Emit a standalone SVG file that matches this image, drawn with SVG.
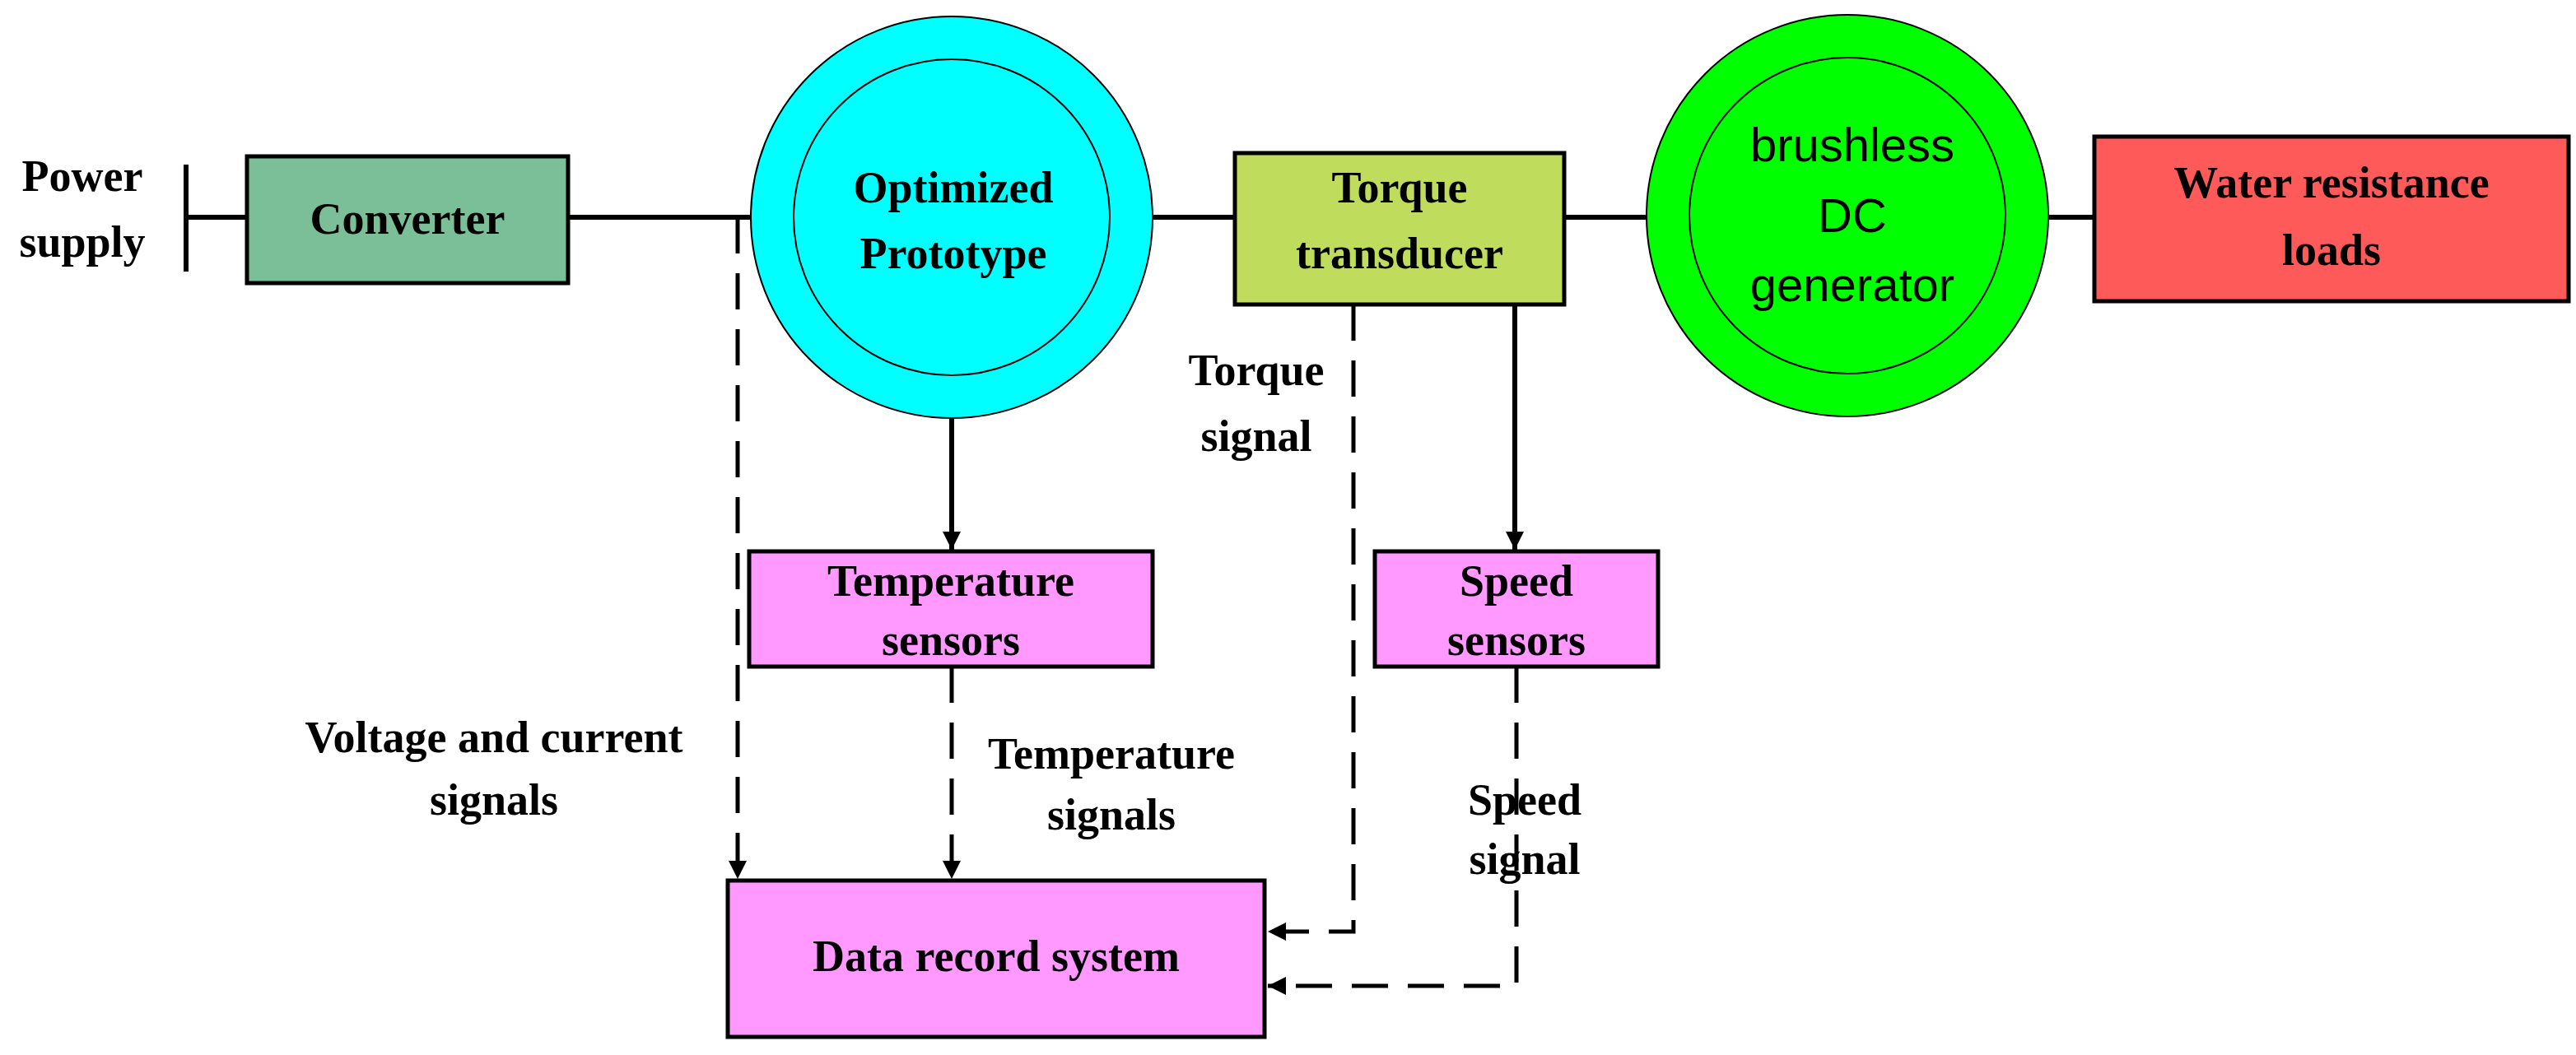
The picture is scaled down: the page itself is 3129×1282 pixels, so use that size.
<svg xmlns="http://www.w3.org/2000/svg" width="3129" height="1282" viewBox="0 0 3129 1282">
<style>
.t{font-family:"Liberation Serif",serif;font-weight:bold;font-size:54px;fill:#000;text-anchor:middle}
.s{font-family:"Liberation Sans",sans-serif;font-size:58px;fill:#000;text-anchor:middle}
.box{stroke:#000;stroke-width:5}
.ln{stroke:#000;stroke-width:6;fill:none}
.d{stroke:#000;stroke-width:5;fill:none;stroke-dasharray:44 24}
</style>
<defs>
<marker id="ah" markerWidth="8" markerHeight="8" refX="7" refY="4" orient="auto" markerUnits="userSpaceOnUse" viewBox="0 0 8 8"><path d="M0,0 L8,4 L0,8 z" fill="#000"/></marker>
<marker id="a" viewBox="0 0 10 10" refX="10" refY="5" markerWidth="22" markerHeight="40" markerUnits="userSpaceOnUse" orient="auto"><path d="M0,0 L10,5 L0,10 z" fill="#000"/></marker>
</defs>
<rect width="3129" height="1282" fill="#fff"/>
<g id="connectors">
<line class="ln" x1="226" y1="200" x2="226" y2="330"/>
<line class="ln" x1="226" y1="264" x2="300" y2="264"/>
<line class="ln" x1="690" y1="264" x2="912" y2="264"/>
<line class="ln" x1="1400" y1="264" x2="1500" y2="264"/>
<line class="ln" x1="1900" y1="264" x2="2000" y2="264"/>
<line class="ln" x1="2488" y1="264" x2="2544" y2="264"/>
<line class="ln" x1="1156" y1="508" x2="1156" y2="668" marker-end="url(#a)"/>
<line class="ln" x1="1840" y1="370" x2="1840" y2="668" marker-end="url(#a)"/>
<path class="d" d="M896,264 V1068" marker-end="url(#a)"/>
<path class="d" d="M1156,810 V1068" marker-end="url(#a)"/>
<path class="d" d="M1644,370 V1132 H1540" marker-end="url(#a)"/>
<path class="d" d="M1842,810 V1198 H1540" marker-end="url(#a)"/>
</g>
<g id="power"><text class="t" x="100" y="232">Power</text><text class="t" x="100" y="312">supply</text></g>
<g id="converter"><rect class="box" x="300" y="190" width="390" height="154" fill="#7bbf98"/><text class="t" x="495" y="284">Converter</text></g>
<g id="prototype"><circle cx="1156" cy="264" r="244" fill="#00ffff" stroke="#000" stroke-width="2"/><circle cx="1156" cy="264" r="192" fill="none" stroke="#000" stroke-width="2"/><text class="t" x="1158" y="246">Optimized</text><text class="t" x="1158" y="326">Prototype</text></g>
<g id="torque"><rect class="box" x="1500" y="186" width="400" height="184" fill="#c0dc5c"/><text class="t" x="1700" y="246">Torque</text><text class="t" x="1700" y="326">transducer</text></g>
<g id="generator"><circle cx="2244" cy="262" r="244" fill="#00ff00" stroke="#000" stroke-width="2"/><circle cx="2244" cy="262" r="192" fill="none" stroke="#000" stroke-width="2"/><text class="s" x="2250" y="196">brushless</text><text class="s" x="2250" y="282">DC</text><text class="s" x="2250" y="366">generator</text></g>
<g id="water"><rect class="box" x="2544" y="166" width="576" height="200" fill="#ff5a5a"/><text class="t" x="2832" y="240">Water resistance</text><text class="t" x="2832" y="322">loads</text></g>
<g id="tempsensors"><rect class="box" x="910" y="670" width="490" height="140" fill="#ff99ff"/><text class="t" x="1155" y="724">Temperature</text><text class="t" x="1155" y="796">sensors</text></g>
<g id="speedsensors"><rect class="box" x="1670" y="670" width="344" height="140" fill="#ff99ff"/><text class="t" x="1842" y="724">Speed</text><text class="t" x="1842" y="796">sensors</text></g>
<g id="datarecord"><rect class="box" x="884" y="1070" width="652" height="190" fill="#ff99ff"/><text class="t" x="1210" y="1180">Data record system</text></g>
<g id="labels">
<text class="t" x="600" y="914">Voltage and current</text><text class="t" x="600" y="990">signals</text>
<text class="t" x="1350" y="934">Temperature</text><text class="t" x="1350" y="1008">signals</text>
<text class="t" x="1526" y="468">Torque</text><text class="t" x="1526" y="548">signal</text>
<text class="t" x="1852" y="990" text-anchor="start">Speed</text><text class="t" x="1852" y="1062" text-anchor="start">signal</text>
</g>
</svg>
